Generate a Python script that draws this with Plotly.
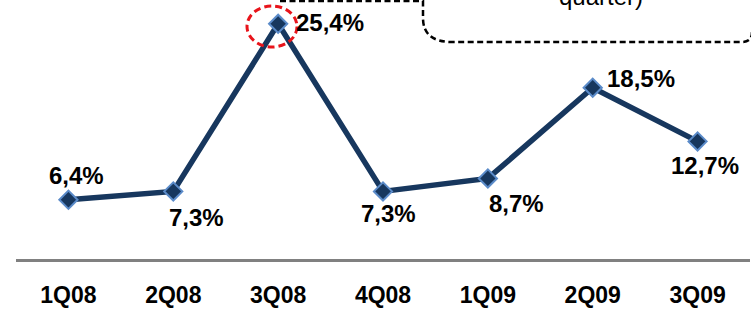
import plotly.graph_objects as go

quarters = ["1Q08", "2Q08", "3Q08", "4Q08", "1Q09", "2Q09", "3Q09"]
values = [6.4, 7.3, 25.4, 7.3, 8.7, 18.5, 12.7]
labels = ["6,4%", "7,3%", "25,4%", "7,3%", "8,7%", "18,5%", "12,7%"]
# label offsets in pixels (style)
label_dx = [8, 23, 52, 5, 29, 48, 7]
label_dy = [24, -26, 1, -22, -25, 9, -24]

W, H = 751, 309
ML, MR, MT, MB = 16, 1, 0, 50
PW, PH = W - ML - MR, H - MT - MB

def px(x):
    return (x - ML) / PW

def py(y):
    return 1 - (y - MT) / PH

FONT = "Arial, 'Liberation Sans', sans-serif"
NAVY = "#17375E"

fig = go.Figure()
fig.add_trace(go.Scatter(
    x=quarters, y=values, mode="lines+markers",
    line=dict(color=NAVY, width=5.5),
    marker=dict(symbol="diamond", size=14, color=NAVY,
                line=dict(color="#5B8BC9", width=2)),
    cliponaxis=False, hoverinfo="skip",
))

for q, v, t, dx, dy in zip(quarters, values, labels, label_dx, label_dy):
    fig.add_annotation(x=q, y=v, text=t, showarrow=False,
                       xanchor="center", yanchor="middle",
                       xshift=dx, yshift=dy,
                       font=dict(family=FONT, size=24, color="black", weight="bold"))

# red dashed circle around peak
fig.add_shape(type="circle", xref="paper", yref="paper",
              x0=px(247), x1=px(297), y0=py(47), y1=py(6),
              line=dict(color="#E8141B", width=3, dash="7px,4px"))

# dashed callout box (partially visible)
path = (f"M {px(280)},{py(1)} L {px(423)},{py(1)} "
        f"L {px(423)},{py(18)} Q {px(423)},{py(42)} {px(452)},{py(42)} "
        f"L {px(742)},{py(42)} Q {px(752)},{py(42)} {px(752)},{py(32)}")
fig.add_shape(type="path", xref="paper", yref="paper", path=path,
              line=dict(color="black", width=2.5, dash="6px,3.5px"))

fig.add_annotation(x=px(601), y=py(-4), xref="paper", yref="paper",
                   text="quarter)", showarrow=False,
                   xanchor="center", yanchor="middle",
                   font=dict(family=FONT, size=24, color="black"))

fig.update_layout(
    width=W, height=H,
    margin=dict(l=ML, r=MR, t=MT, b=MB, autoexpand=False),
    paper_bgcolor="white", plot_bgcolor="white",
    showlegend=False,
    xaxis=dict(type="category", range=[-0.5, 6.5], showgrid=False,
               showline=True, linecolor="#808080", linewidth=2.5,
               ticks="outside", ticklen=14, tickcolor="rgba(0,0,0,0)",
               tickfont=dict(family=FONT, size=23, color="black", weight="bold"),
               automargin=False,
               zeroline=False, fixedrange=True),
    yaxis=dict(range=[0, 259 / 9.26], visible=False, showgrid=False,
               automargin=False,
               zeroline=False, fixedrange=True),
)

fig.write_html("out.html", config={"displayModeBar": False},
               post_script="document.body.style.margin='0px';")
